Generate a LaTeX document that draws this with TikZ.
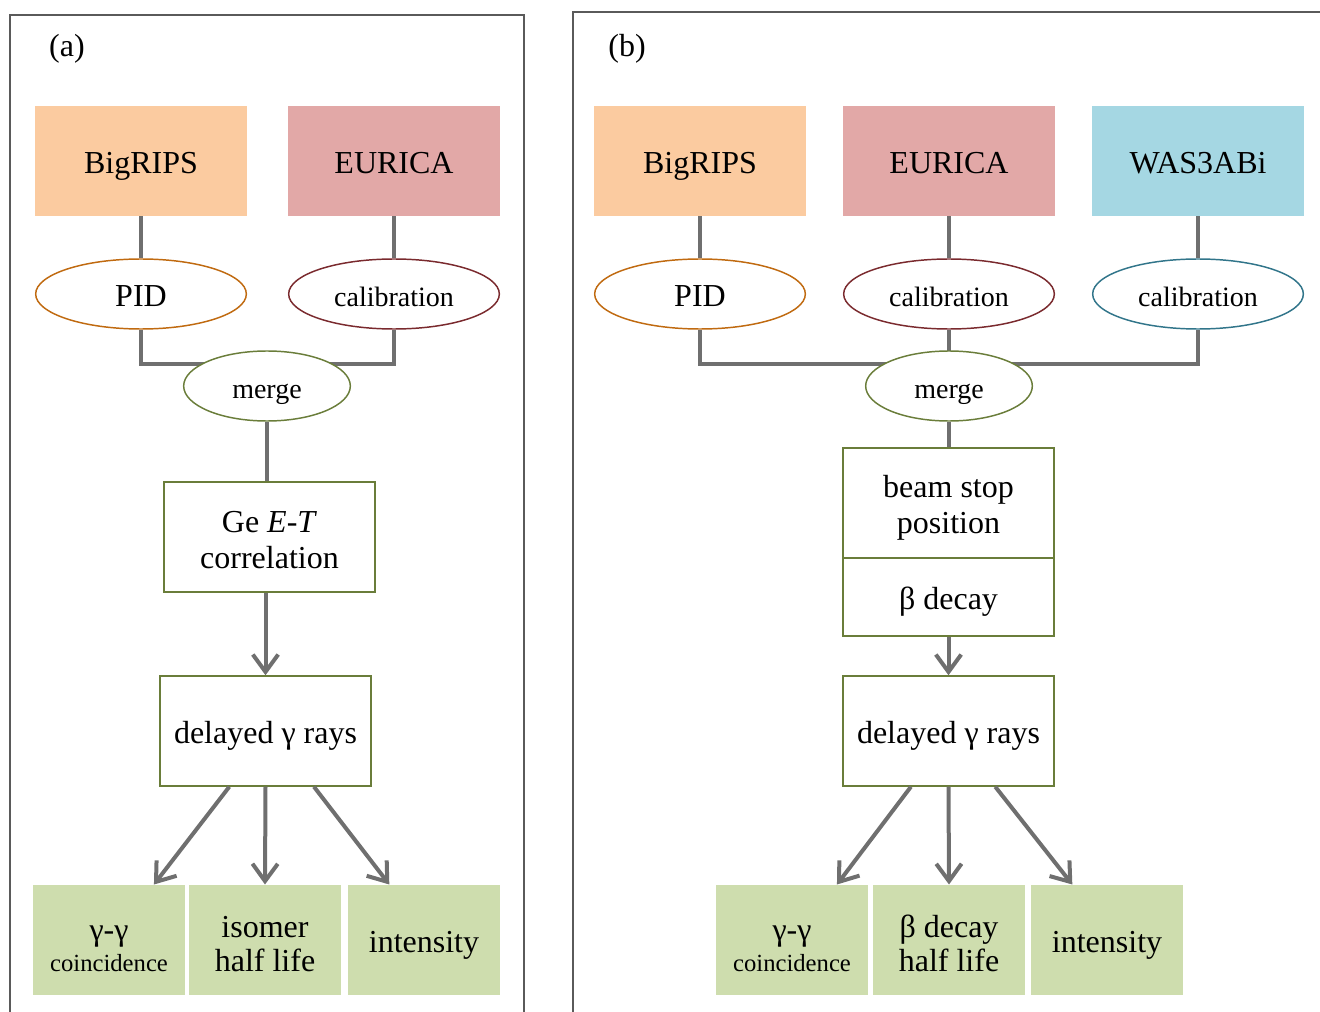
\documentclass[tikz,border=0pt]{standalone}
\usepackage{fontspec}
\setmainfont{Liberation Serif}
\usetikzlibrary{shapes.geometric,arrows.meta}

\definecolor{peach}{RGB}{251,203,160}
\definecolor{rose}{RGB}{226,168,167}
\definecolor{skyblue}{RGB}{165,215,227}
\definecolor{leaf}{RGB}{206,221,174}
\definecolor{olive}{RGB}{106,125,58}
\definecolor{amber}{RGB}{192,106,16}
\definecolor{wine}{RGB}{122,42,46}
\definecolor{deepteal}{RGB}{49,117,138}
\definecolor{linkgray}{RGB}{111,111,111}
\definecolor{framegray}{RGB}{90,90,90}

% pushes a two-line label a little down in its box
\newcommand{\topgap}[1]{\rule{0pt}{#1}}

\tikzset{every picture/.style={line width=0.75pt},
  oneline/.style={text height=21pt, text depth=2pt},
  detbox/.style={rectangle, oneline, inner sep=0pt, minimum width=159pt, minimum height=82.5pt, font=\fontsize{24}{28}\selectfont},
  stagebox/.style={rectangle, draw=olive, line width=1.1pt, fill=white, inner sep=0pt, minimum width=158pt, minimum height=82.5pt, align=center, font=\fontsize{24}{27}\selectfont},
  resbox/.style={rectangle, fill=leaf, inner sep=0pt, minimum width=114pt, minimum height=82.5pt, align=center, font=\fontsize{24}{26}\selectfont},
  oval/.style={ellipse, oneline, fill=white, line width=1.1pt, inner sep=0pt, minimum width=158pt, minimum height=52.5pt, font=\fontsize{21}{24}\selectfont},
  link/.style={draw=linkgray, line width=3pt},
  flow/.style={link, -{Straight Barb[length=13pt,width=19pt]}}
}

\begin{document}
\begin{tikzpicture}[x=0.75pt,y=0.75pt,yscale=-1,xscale=1]
\useasboundingbox (0,0) rectangle (1320,1012);

%Frames
\draw [framegray, line width=1.1pt] (10,1012) -- (10,15) -- (524,15) -- (524,1012) ;
\draw [framegray, line width=1.1pt] (573,1012) -- (573,12) -- (1320,12) ;

% Text Node
\node (labA) at (67,44) [oneline, font=\fontsize{24}{28}\selectfont] {(a)};
% Text Node
\node (labB) at (627,44) [oneline, font=\fontsize{24}{28}\selectfont] {(b)};

%%% panel (a)
\node (bigA) at (141,161) [detbox, fill=peach] {BigRIPS};
\node (euA) at (394,161) [detbox, fill=rose] {EURICA};
\node (pidA) at (141,294) [oval, draw=amber, font=\fontsize{24}{28}\selectfont] {PID};
\node (calA) at (394,294) [oval, draw=wine] {calibration};
\coordinate (barA) at (267,364);

\draw [link] (bigA) -- (pidA) ;
\draw [link] (euA) -- (calA) ;
\draw [link] (pidA.south) |- (barA) -| (calA.south) ;

\node (mergeA) at (267,386) [oval, draw=olive, minimum width=125pt] {merge};
\node (geA) at (269.5,537) [stagebox] {\topgap{21pt}Ge \textit{E}-\textit{T}\\correlation};
\node (delA) at (265.5,731) [stagebox, oneline] {delayed γ rays};

\node (coinA) at (109,940) [resbox] {\topgap{24pt}γ-γ\\[-3pt]{\fontsize{18.5}{20}\selectfont coincidence}};
\node (halfA) at (265,940) [resbox] {\topgap{22pt}isomer\\half life};
\node (intA) at (424,940) [resbox, oneline] {intensity};

\draw [link] (mergeA) -- (mergeA.south |- geA.north) ;
\draw [flow] (delA.north |- geA.south) -- (delA.north) ;
\draw [flow] (delA.-123) -- (coinA.51) ;
\draw [flow] (delA.south) -- (halfA.north) ;
\draw [flow] (delA.-49.5) -- (intA.122) ;

%%% panel (b)
\node (bigB) at (700,161) [detbox, fill=peach] {BigRIPS};
\node (euB) at (949,161) [detbox, fill=rose] {EURICA};
\node (wasB) at (1198,161) [detbox, fill=skyblue] {WAS3ABi};
\node (pidB) at (700,294) [oval, draw=amber, font=\fontsize{24}{28}\selectfont] {PID};
\node (calB) at (949,294) [oval, draw=wine] {calibration};
\node (calC) at (1198,294) [oval, draw=deepteal] {calibration};
\coordinate (barB) at (949,364);

\draw [link] (bigB) -- (pidB) ;
\draw [link] (euB) -- (calB) ;
\draw [link] (wasB) -- (calC) ;
\draw [link] (pidB.south) |- (barB) -| (calC.south) ;
\draw [link] (calB) -- (barB) ;

\node (mergeB) at (949,386) [oval, draw=olive, minimum width=125pt] {merge};
\node (beamB) at (948.5,503) [stagebox] {\topgap{24pt}beam stop\\position};
\node (betaB) at (948.5,597) [stagebox, oneline, minimum height=58.5pt] {β decay};
\node (delB) at (948.5,731) [stagebox, oneline] {delayed γ rays};

\node (coinB) at (792,940) [resbox] {\topgap{24pt}γ-γ\\[-3pt]{\fontsize{18.5}{20}\selectfont coincidence}};
\node (halfB) at (949,940) [resbox] {\topgap{22pt}β decay\\half life};
\node (intB) at (1107,940) [resbox, oneline] {intensity};

\draw [link] (mergeB) -- (mergeB.south |- beamB.north) ;
\draw [flow] (betaB) -- (delB) ;
\draw [flow] (delB.-124.6) -- (coinB.51) ;
\draw [flow] (delB.south) -- (halfB.north) ;
\draw [flow] (delB.-50) -- (intB.122) ;

\end{tikzpicture}
\end{document}
